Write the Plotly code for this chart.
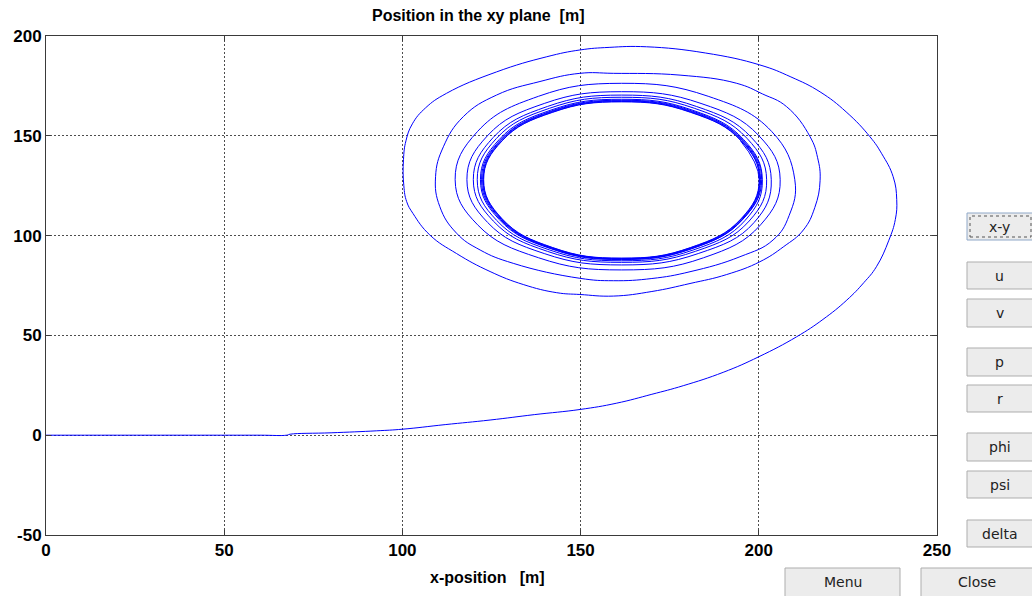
import plotly.graph_objects as go

# ---------------- data ----------------
tail_x = [0, 20, 40, 60, 67.5, 68.5, 80, 92.8, 100, 112, 124.6, 137, 149.9, 160, 170,
          178.8, 190, 200, 210.6, 218, 224.7, 229.5, 233, 236.5, 238.3, 238.7]
tail_y = [0, 0, 0, 0, 0, 0.5, 1.2, 2.2, 3, 5.3, 7.6, 10.3, 12.9, 16, 20.5,
          24.8, 31.5, 39.3, 49.3, 58, 67.7, 76.5, 84.4, 97.7, 108, 118]

loop1_x = [237.7, 234.5, 231.2, 224.5, 217.2, 209, 200.3, 185, 168.5, 158, 149.8, 140.5,
           126.4, 112.4, 106.5, 102.8, 101.0, 100.3, 100.4, 101.2, 103, 107.7, 115.2, 124.6,
           133.9, 143.3, 149.8, 159.2, 170, 180.7, 191, 200.3, 207, 212.5, 215.7, 217.2]
loop1_y = [129.5, 141, 149.5, 162, 172, 179.5, 185.5, 191.5, 194.6, 194.3, 193, 189.6,
           182, 171.3, 164, 156, 147.5, 138, 125, 117, 111, 100.3, 91, 82,
           75.5, 71.4, 70.5, 69.7, 72, 76, 80.5, 86.9, 94.5, 102.8, 114, 127.7]

loop2_x = [216.5, 214.4, 207.8, 201, 193.8, 177.9, 159.2, 149.8, 138.6, 126.4, 117.1, 111.5,
           109.3, 110.5, 115.2, 121.8, 131.1, 149.8, 159.2, 170, 180.7, 194.7, 204, 208.5]
loop2_y = [139, 149.5, 164.6, 171, 176.3, 180.4, 181.3, 181.3, 177.2, 170.4, 159.6, 144.5,
           129.5, 114.5, 101.2, 92.8, 86.1, 78.6, 77.4, 78.5, 81.9, 89.4, 97.8, 110]

inner_x = [
    210.1, 203.6, 185.8, 161.5, 138.2, 121.1, 114.8, 121.1, 138.2, 161.5, 184.5, 200.5,
    206.0, 200.0, 183.8, 161.5, 139.8, 123.9, 118.1, 123.9, 139.8, 161.5, 183.0, 198.7,
    203.5, 197.9, 182.5, 161.5, 140.7, 125.5, 119.9, 125.5, 140.7, 161.5, 182.2, 197.3,
    202.2, 196.7, 181.9, 161.5, 141.3, 126.4, 121.0, 126.4, 141.3, 161.5, 181.6, 196.2,
    201.0, 195.7, 181.3, 161.5, 141.7, 127.2, 121.9, 127.2, 141.7, 161.5, 181.1, 195.4,
    200.8, 195.5, 181.2, 161.5, 141.9, 127.5, 122.2, 127.5, 141.9, 161.5, 181.2, 195.5,
    200.5, 195.3, 181.0, 161.5, 142.0, 127.7, 122.5, 127.7, 142.0, 161.5, 181.0, 195.3,
    200.3, 195.1, 180.9, 161.5, 142.1, 127.9, 122.7, 127.9, 142.1, 161.5, 180.9, 195.1,
    200.2, 195.0, 180.8, 161.5, 142.2, 128.0, 122.8, 128.0, 142.2, 161.5, 180.8, 195.0,
    200.1, 194.9]
inner_y = [
    128, 152.2, 169.8, 176.3, 169.8, 152.2, 128, 105.4, 88.9, 82.8, 88.9, 105.4,
    128, 150.1, 166.2, 172.1, 166.2, 150.1, 128, 106.6, 91.0, 85.3, 91.0, 106.6,
    128, 149.2, 164.7, 170.4, 164.7, 149.2, 128, 107.3, 92.1, 86.6, 92.1, 107.3,
    128, 148.7, 163.8, 169.3, 163.8, 148.7, 128, 107.7, 92.8, 87.4, 92.8, 107.7,
    128, 148.2, 162.9, 168.3, 162.9, 148.2, 128, 108.0, 93.4, 88.0, 93.4, 108.0,
    128, 147.9, 162.5, 167.8, 162.5, 147.9, 128, 108.1, 93.5, 88.2, 93.5, 108.1,
    128, 147.8, 162.2, 167.5, 162.2, 147.8, 128, 108.2, 93.7, 88.4, 93.7, 108.2,
    128, 147.6, 161.9, 167.2, 161.9, 147.6, 128, 108.3, 93.9, 88.6, 93.9, 108.3,
    128, 147.5, 161.8, 167.0, 161.8, 147.5, 128, 108.4, 94.0, 88.7, 94.0, 108.4,
    128, 147.4]

x_ticks = [0, 50, 100, 150, 200, 250]
y_ticks = [-50, 0, 50, 100, 150, 200]

buttons = ["x-y", "u", "v", "p", "r", "phi", "psi", "delta", "Menu", "Close"]

title_text = "Position in the xy plane\u00a0\u00a0[m]"
xlabel_text = "x-position\u00a0\u00a0\u00a0[m]"

# ---------------- layout helpers ----------------
W, H = 1032, 596
L, R, T, B = 46, 937, 36, 535


def px(xp):
    return (xp - L) / (R - L)


def py(yp):
    return (B - yp) / (B - T)


# button boxes in pixels (x0, y0, x1, y1)
button_boxes = {
    "x-y": (967, 213, 1034, 240),
    "u": (967, 262, 1034, 289),
    "v": (967, 299, 1034, 327),
    "p": (967, 348, 1034, 376),
    "r": (967, 385, 1034, 412),
    "phi": (967, 433, 1034, 461),
    "psi": (967, 471, 1034, 498),
    "delta": (967, 520, 1034, 547),
    "Menu": (785, 568, 900, 600),
    "Close": (921, 568, 1034, 600),
}

all_x = tail_x + loop1_x + loop2_x + inner_x
all_y = tail_y + loop1_y + loop2_y + inner_y

fig = go.Figure()
fig.add_trace(go.Scatter(
    x=all_x, y=all_y, mode="lines",
    line=dict(color="#0000ff", width=1, shape="spline", smoothing=1.25),
    hoverinfo="skip", showlegend=False,
))

axis_common = dict(
    showgrid=True, gridcolor="#4d4d4d", gridwidth=1, griddash="2px,2px",
    zeroline=False, showline=True, linecolor="#3a3a3a", linewidth=1, mirror="ticks",
    ticks="inside", ticklen=5, tickcolor="#3a3a3a", tickwidth=1,
    tickfont=dict(family="Liberation Sans, Arial, sans-serif", size=17, color="#000000", weight="bold"),
)

fig.update_xaxes(range=[0, 250], tickvals=x_ticks, ticktext=[str(v) for v in x_ticks], **axis_common)
fig.update_yaxes(range=[-50, 200], tickvals=y_ticks, ticktext=[str(v) for v in y_ticks], **axis_common)

shapes = []
annotations = []
for name in buttons:
    x0, y0, x1, y1 = button_boxes[name]
    shapes.append(dict(type="rect", xref="paper", yref="paper",
                       x0=px(x0), x1=px(x1), y0=py(y1), y1=py(y0),
                       fillcolor="#ececec",
                       line=dict(color="#8fa8c8" if name == "x-y" else "#adadad", width=1),
                       layer="above"))
    if name == "x-y":
        shapes.append(dict(type="rect", xref="paper", yref="paper",
                           x0=px(x0 + 3), x1=px(x1 - 3), y0=py(y1 - 3), y1=py(y0 + 3),
                           fillcolor="rgba(0,0,0,0)",
                           line=dict(color="#555555", width=1, dash="dot"),
                           layer="above"))
    cx = (x0 + min(x1, 1032)) / 2
    cy = (y0 + min(y1, 596)) / 2
    annotations.append(dict(text=name, xref="paper", yref="paper",
                            x=px(cx), y=py(cy), xanchor="center", yanchor="middle",
                            showarrow=False,
                            font=dict(family="DejaVu Sans, sans-serif", size=14, color="#222222")))

annotations.append(dict(text=title_text, xref="paper", yref="paper",
                        x=px(478), y=py(16), xanchor="center", yanchor="middle", showarrow=False,
                        font=dict(family="Liberation Sans, Arial, sans-serif", size=16,
                                  color="#000000", weight="bold")))
annotations.append(dict(text=xlabel_text, xref="paper", yref="paper",
                        x=px(487), y=py(577), xanchor="center", yanchor="middle", showarrow=False,
                        font=dict(family="Liberation Sans, Arial, sans-serif", size=16,
                                  color="#000000", weight="bold")))

fig.update_layout(
    width=W, height=H,
    margin=dict(l=L, r=W - R, t=T, b=H - B, pad=0),
    paper_bgcolor="#ffffff", plot_bgcolor="#ffffff",
    shapes=shapes, annotations=annotations,
    showlegend=False,
)

fig.write_html("out.html")
